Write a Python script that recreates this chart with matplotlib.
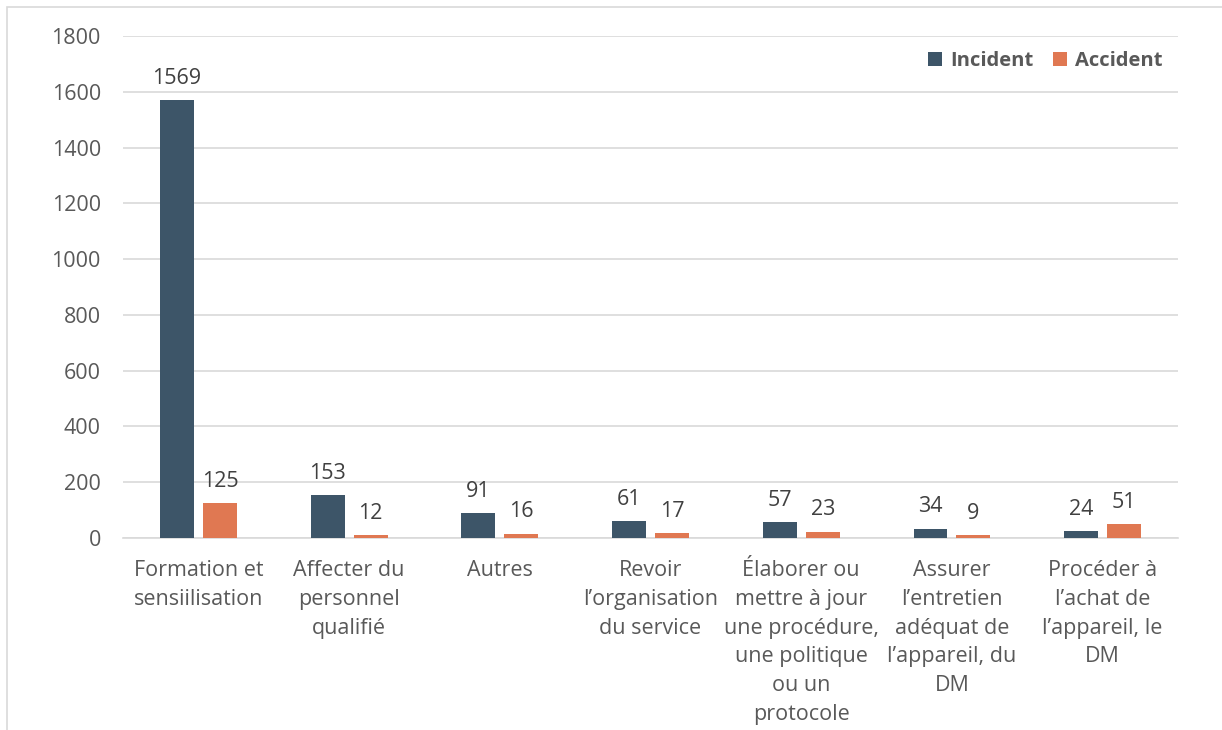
import matplotlib

matplotlib.use("Agg")
import matplotlib.pyplot as plt
import numpy as np
from matplotlib.patches import Rectangle

categories = [
    "Formation et\nsensiilisation",
    "Affecter du\npersonnel\nqualifié",
    "Autres",
    "Revoir\nl’organisation\ndu service",
    "Élaborer ou\nmettre à jour\nune procédure,\nune politique\nou un\nprotocole",
    "Assurer\nl’entretien\nadéquat de\nl’appareil, du\nDM",
    "Procéder à\nl’achat de\nl’appareil, le\nDM",
]
incident = [1569, 153, 91, 61, 57, 34, 24]
accident = [125, 12, 16, 17, 23, 9, 51]

C_INC = "#3D5568"
C_ACC = "#E07852"

plt.rcParams["font.family"] = ["Open Sans", "DejaVu Sans"]

fig = plt.figure(figsize=(12.22, 7.3), dpi=100)
ax = fig.add_axes([0.1007, 0.263, 0.8633, 0.6877])

x = np.arange(len(categories))
w = 0.225
off = 0.1425
b1 = ax.bar(x - off, incident, w, color=C_INC, label="Incident", zorder=3)
b2 = ax.bar(x + off, accident, w, color=C_ACC, label="Accident", zorder=3)

for bars in (b1, b2):
    for r in bars:
        ax.annotate(
            f"{int(r.get_height())}",
            (r.get_x() + r.get_width() / 2, r.get_height()),
            textcoords="offset points",
            xytext=(0, 8),
            ha="center",
            va="bottom",
            fontsize=15.5,
            color="#404040",
        )

ax.set_xlim(-0.5, len(categories) - 0.5)
ax.set_ylim(0, 1800)
ax.set_yticks(range(0, 1801, 200))
ax.yaxis.grid(True, color="#D9D9D9", lw=1.2, zorder=0)
ax.set_axisbelow(True)
for s in ("top", "right", "left"):
    ax.spines[s].set_visible(False)
ax.spines["bottom"].set_color("#D9D9D9")
ax.spines["bottom"].set_linewidth(1.2)
ax.tick_params(axis="both", length=0, labelsize=15.5, colors="#595959")
ax.tick_params(axis="x", pad=16)
ax.tick_params(axis="y", pad=16)
ax.set_xticks(x)
ax.set_xticklabels(categories, linespacing=1.48)

leg = ax.legend(
    loc="upper right",
    bbox_to_anchor=(1.0, 1.0),
    ncol=2,
    frameon=False,
    handlelength=0.7,
    handleheight=0.7,
    handletextpad=0.4,
    columnspacing=1.0,
    borderaxespad=0.35,
    prop={"weight": "bold", "size": 14.5},
)
for t in leg.get_texts():
    t.set_color("#595959")

fig.patches.append(
    Rectangle((7 / 1222, -0.1), 1.2, 1 - 7 / 730 + 0.1, transform=fig.transFigure,
              fill=False, edgecolor="#D9D9D9", lw=1.2)
)

fig.savefig("out.png", dpi=100)
